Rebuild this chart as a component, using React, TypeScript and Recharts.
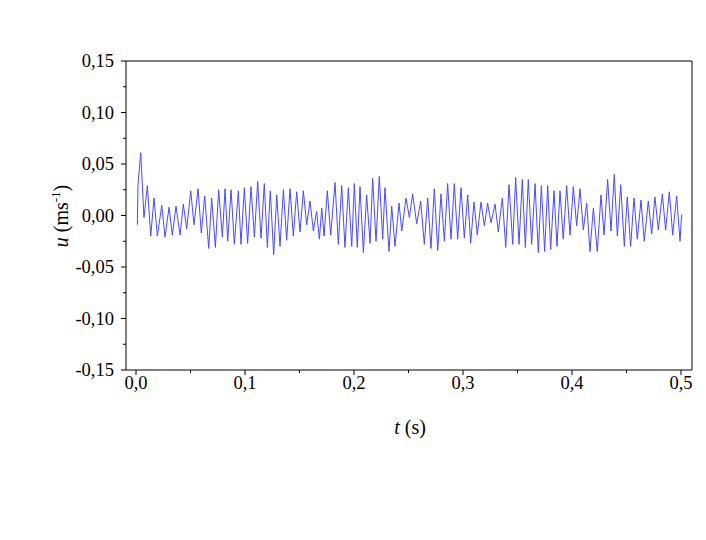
import { LineChart, Line, XAxis, YAxis, ReferenceLine } from "recharts";

// time (s) and velocity (m/s), read peak by peak from the trace
const time = [
  0.0012, 0.0018, 0.0043, 0.0073, 0.0104, 0.0135, 0.0165, 0.0196, 0.0236, 0.0266,
  0.0303, 0.0333, 0.0367, 0.0404, 0.0434, 0.0465, 0.0502, 0.0532, 0.0569, 0.0599,
  0.063, 0.0667, 0.0694, 0.0728, 0.0758, 0.0792,
  0.0817, 0.0841, 0.0872, 0.0902, 0.0939, 0.0963, 0.0994, 0.1024, 0.1055, 0.1086,
  0.1116, 0.1147, 0.1177, 0.1205, 0.1232, 0.1263, 0.1291, 0.1321, 0.1352, 0.1382,
  0.1413, 0.1443, 0.1474, 0.1505, 0.1535, 0.1566, 0.1596, 0.1627, 0.1657, 0.1682,
  0.1704, 0.1725, 0.1755, 0.1786, 0.1826, 0.1856, 0.1887, 0.1917, 0.1948, 0.1979,
  0.2003, 0.203, 0.2055, 0.2086, 0.2116, 0.2147, 0.2171, 0.2202, 0.2232, 0.2263,
  0.2284, 0.2321, 0.2346, 0.2376, 0.2413, 0.2438, 0.2477, 0.2508, 0.2538,
  0.2575, 0.2612, 0.2645, 0.2676, 0.2706, 0.2737, 0.2768, 0.2798, 0.2829, 0.2859,
  0.289, 0.292, 0.2951, 0.2982, 0.3012, 0.3043, 0.307, 0.3101, 0.3131, 0.3165,
  0.3196, 0.3226, 0.3257, 0.3294, 0.3324, 0.3361, 0.3392, 0.3422,
  0.3456, 0.3483, 0.3514, 0.3544, 0.3572, 0.3599, 0.363, 0.3661, 0.3691, 0.3719,
  0.3749, 0.3777, 0.3804, 0.3835, 0.3862, 0.389, 0.392, 0.3951, 0.3982, 0.4012,
  0.4043, 0.4073, 0.4104, 0.4135, 0.4165, 0.4196, 0.4232, 0.4266,
  0.4294, 0.4327, 0.4358, 0.4388, 0.4416, 0.4447, 0.448, 0.4507, 0.4538, 0.4569,
  0.4599, 0.4633, 0.4663, 0.47, 0.4731, 0.4761, 0.4792, 0.4829, 0.4859, 0.4893,
  0.4924, 0.496, 0.4991, 0.5006,
];

const velocity = [
  -0.009, 0.03, 0.061, -0.002, 0.029, -0.02, 0.017, -0.02, 0.01, -0.021,
  0.008, -0.019, 0.009, -0.019, 0.011, -0.013, 0.024, -0.009, 0.026, -0.017,
  0.019, -0.032, 0.017, -0.031, 0.025, -0.021,
  0.026, -0.025, 0.025, -0.028, 0.024, -0.028, 0.027, -0.027, 0.028, -0.021,
  0.033, -0.022, 0.031, -0.031, 0.024, -0.038, 0.02, -0.03, 0.025, -0.024,
  0.026, -0.02, 0.023, -0.016, 0.024, -0.009, 0.014, -0.015, 0.004, -0.023,
  0.007, -0.02, 0.024, -0.019, 0.032, -0.028, 0.029, -0.031, 0.027, -0.03,
  0.031, -0.031, 0.028, -0.036, 0.02, -0.027, 0.036, -0.025, 0.038, -0.023,
  0.027, -0.035, 0.009, -0.03, 0.012, -0.015, 0.017, -0.002, 0.021,
  -0.008, 0.014, -0.028, 0.017, -0.032, 0.026, -0.034, 0.021, -0.025, 0.031,
  -0.023, 0.031, -0.023, 0.027, -0.022, 0.02, -0.027, 0.013, -0.019, 0.013,
  -0.01, 0.012, -0.007, 0.011, -0.016, 0.017, -0.031, 0.03,
  -0.028, 0.037, -0.028, 0.035, -0.031, 0.035, -0.028, 0.031, -0.036, 0.029,
  -0.035, 0.029, -0.033, 0.024, -0.03, 0.024, -0.023, 0.029, -0.019, 0.028,
  -0.01, 0.026, -0.014, 0.012, -0.035, 0.007, -0.035, 0.02,
  -0.019, 0.035, -0.015, 0.04, -0.02, 0.03, -0.03, 0.018, -0.03, 0.017,
  -0.023, 0.015, -0.025, 0.014, -0.018, 0.018, -0.014, 0.021, -0.014, 0.023,
  -0.019, 0.019, -0.025, 0.001,
];

const xTicks = [0, 0.05, 0.1, 0.15, 0.2, 0.25, 0.3, 0.35, 0.4, 0.45, 0.5];
const xLabels = ["0,0", "0,1", "0,2", "0,3", "0,4", "0,5"];
const yTicks = [
  -0.15, -0.125, -0.1, -0.075, -0.05, -0.025, 0, 0.025, 0.05, 0.075, 0.1, 0.125, 0.15,
];
const yLabels = ["-0,15", "-0,10", "-0,05", "0,00", "0,05", "0,10", "0,15"];

const xDomain = [-0.0092, 0.5101];
const yDomain = [-0.15, 0.15];

const data = time.map((t, i) => ({ t, u: velocity[i] }));

const FONT = "'Liberation Serif', 'Times New Roman', serif";

function XTick({ x, y, index }: any) {
  const major = index % 2 === 0;
  return (
    <g>
      <line x1={x} y1={y} x2={x} y2={y + (major ? 5 : 3)} stroke="#000" />
      {major && (
        <text x={x} y={y + 19} textAnchor="middle" fontSize={18.5} fontFamily={FONT} fill="#000">
          {xLabels[index / 2]}
        </text>
      )}
    </g>
  );
}

function YTick({ x, y, index }: any) {
  const major = index % 2 === 0;
  return (
    <g>
      <line x1={x} y1={y} x2={x - (major ? 5 : 3)} y2={y} stroke="#000" />
      {major && (
        <text x={x - 12} y={y + 6} textAnchor="end" fontSize={18.5} fontFamily={FONT} fill="#000">
          {yLabels[index / 2]}
        </text>
      )}
    </g>
  );
}

export default function App() {
  return (
    <div style={{ width: 698, height: 532, background: "#fff" }}>
      <LineChart
        width={698}
        height={532}
        data={data}
        margin={{ top: 53, right: 14, bottom: 110, left: 0 }}
      >
        <XAxis
          xAxisId="b"
          type="number"
          dataKey="t"
          domain={xDomain}
          allowDataOverflow
          ticks={xTicks}
          interval={0}
          height={60}
          tickSize={0}
          tickMargin={0}
          tickLine={false}
          tick={<XTick />}
          axisLine={{ stroke: "#000" }}
        />
        <YAxis
          yAxisId="l"
          type="number"
          domain={yDomain}
          allowDataOverflow
          ticks={yTicks}
          interval={0}
          width={118}
          tickSize={0}
          tickMargin={0}
          tickLine={false}
          tick={<YTick />}
          axisLine={{ stroke: "#000" }}
        />
        {/* top and right sides of the frame */}
        <ReferenceLine xAxisId="b" yAxisId="l" y={yDomain[1]} stroke="#000" />
        <ReferenceLine xAxisId="b" yAxisId="l" x={xDomain[1]} stroke="#000" />
        <Line
          xAxisId="b"
          yAxisId="l"
          type="linear"
          dataKey="u"
          stroke="#4a4aff"
          strokeWidth={1}
          dot={false}
          isAnimationActive={false}
        />
        <text x={402} y={426} textAnchor="middle" fontSize={20} fontFamily={FONT} fill="#000">
          <tspan fontStyle="italic">t</tspan> (s)
        </text>
        <text
          transform="translate(60,208) rotate(-90)"
          textAnchor="middle"
          fontSize={20}
          fontFamily={FONT}
          fill="#000"
        >
          <tspan fontStyle="italic">u</tspan> (ms
          <tspan fontSize={13} dy={-8}>-1</tspan>
          <tspan dy={8}>)</tspan>
        </text>
      </LineChart>
    </div>
  );
}
